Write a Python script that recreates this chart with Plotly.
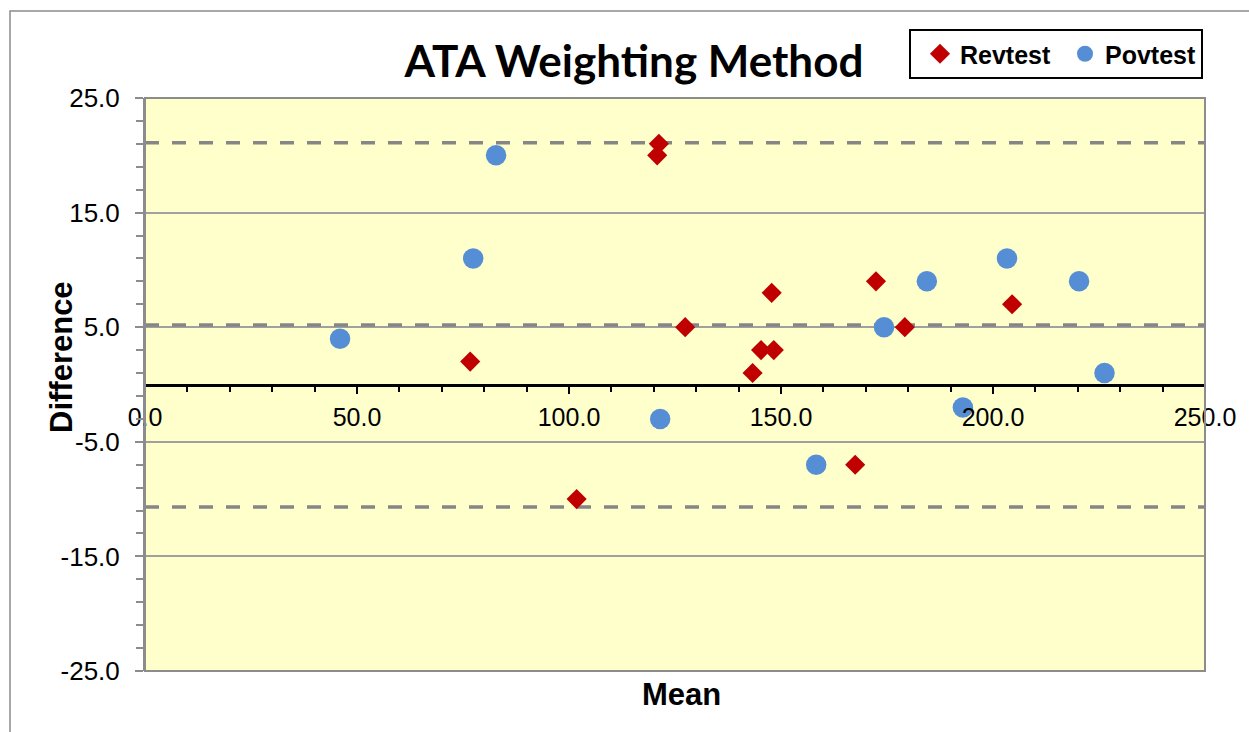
import plotly.graph_objects as go

# ---- data ----
rev_mean = [76.7, 101.8, 120.8, 121.2, 127.4, 143.3, 145.3, 148.3, 147.8, 167.5, 172.4, 179.2, 204.5]
rev_diff = [2.0, -10.0, 20.0, 21.0, 5.0, 1.0, 3.0, 3.0, 8.0, -7.0, 9.0, 5.0, 7.0]

pov_mean = [46.0, 77.4, 82.8, 121.5, 158.3, 174.3, 184.4, 192.9, 203.3, 220.3, 226.3]
pov_diff = [4.0, 11.0, 20.0, -3.0, -7.0, 5.0, 9.0, -2.0, 11.0, 9.0, 1.0]

ref_lines = [21.1, 5.2, -10.7]   # upper limit, mean difference, lower limit

x_range = [0, 250]
y_range = [-25, 25]
x_tickvals = [0, 50, 100, 150, 200, 250]
x_ticktext = ["0.0", "50.0", "100.0", "150.0", "200.0", "250.0"]
y_tickvals = [-25, -15, -5, 5, 15, 25]
y_ticktext = ["-25.0", "-15.0", "-5.0", "5.0", "15.0", "25.0"]

W, H = 1249, 732
L, R, T, B = 145, 44, 98, 61

font_main = "Liberation Sans, Arial, sans-serif"

fig = go.Figure()

# reference (limit / mean) lines, drawn first so markers sit on top
for v in ref_lines:
    fig.add_trace(go.Scatter(
        x=x_range, y=[v, v], mode="lines", showlegend=False, hoverinfo="skip",
        line=dict(color="#868686", width=3.5, dash="14px,13px"),
    ))

fig.add_trace(go.Scatter(
    x=rev_mean, y=rev_diff, mode="markers", name="<b>Revtest</b>",
    marker=dict(symbol="diamond", size=15.5, color="#C00000", line=dict(width=0)),
))
fig.add_trace(go.Scatter(
    x=pov_mean, y=pov_diff, mode="markers", name="<b>Povtest</b>",
    marker=dict(symbol="circle", size=20.5, color="#558ED5", line=dict(width=0)),
))

# plot-area frame
fig.add_shape(type="rect", xref="x domain", yref="y domain", x0=0, x1=1, y0=0, y1=1,
              line=dict(color="#8C8C8C", width=2), layer="above")
# outer chart border
fig.add_shape(type="rect", xref="paper", yref="paper",
              x0=(10 - L) / (W - L - R), x1=1.2, y0=-0.3, y1=(H - 11 - B) / (H - T - B),
              line=dict(color="#8C8C8C", width=1.5), layer="below")

fig.update_layout(
    width=W, height=H,
    margin=dict(l=L, r=R, t=T, b=B, pad=0, autoexpand=False),
    paper_bgcolor="white",
    plot_bgcolor="#FFFFCC",
    font=dict(family=font_main, color="black"),
    showlegend=True,
    legend=dict(
        orientation="h", x=909 / W, y=1 - 29 / H, xref="container", yref="container",
        xanchor="left", yanchor="top",
        bgcolor="white", bordercolor="black", borderwidth=2,
        font=dict(size=25, family=font_main, color="black"),
        itemwidth=30, indentation=9,
    ),
    title=dict(
        text="<b>ATA Weighting Method</b>", x=634 / W, y=1 - 62 / H,
        xref="container", yref="container", xanchor="center", yanchor="middle",
        font=dict(family="Lato, Carlito, sans-serif", size=44, color="black"),
    ),
    xaxis=dict(
        range=x_range, anchor="free", position=0.5,
        showline=True, linecolor="black", linewidth=3,
        ticks="outside", ticklen=7, tickwidth=2, tickcolor="black",
        tickvals=x_tickvals, ticktext=x_ticktext,
        tickfont=dict(size=25, family=font_main, color="black"),
        ticklabelstandoff=2,
        minor=dict(dtick=10, tick0=0, ticks="outside", ticklen=5, tickwidth=2, tickcolor="black", showgrid=False),
        showgrid=False, zeroline=False,
    ),
    yaxis=dict(
        range=y_range, showline=True, linecolor="#8C8C8C", linewidth=2,
        ticks="outside", ticklen=8, tickwidth=2, tickcolor="#8C8C8C",
        tickvals=y_tickvals, ticktext=y_ticktext,
        tickfont=dict(size=26, family=font_main, color="black"),
        ticklabelstandoff=10,
        minor=dict(dtick=2, tick0=-25, ticks="outside", ticklen=7, tickwidth=2, tickcolor="#8C8C8C", showgrid=False),
        showgrid=True, gridcolor="#A0A0A0", gridwidth=1.5,
        zeroline=False,
    ),
    annotations=[
        dict(text="<b>Mean</b>", xref="paper", yref="paper",
             x=(681 - L) / (W - L - R), y=-(694 - (H - B)) / (H - T - B),
             xanchor="center", yanchor="middle", showarrow=False,
             font=dict(size=31, family=font_main, color="black")),
        dict(text="<b>Difference</b>", xref="paper", yref="paper",
             x=(61 - L) / (W - L - R), y=(H - B - 357) / (H - T - B),
             xanchor="center", yanchor="middle", showarrow=False, textangle=-90,
             font=dict(size=31, family=font_main, color="black")),
    ],
)

fig.write_html("out.html", post_script="document.body.style.margin='0';",
               config={"displayModeBar": False})
